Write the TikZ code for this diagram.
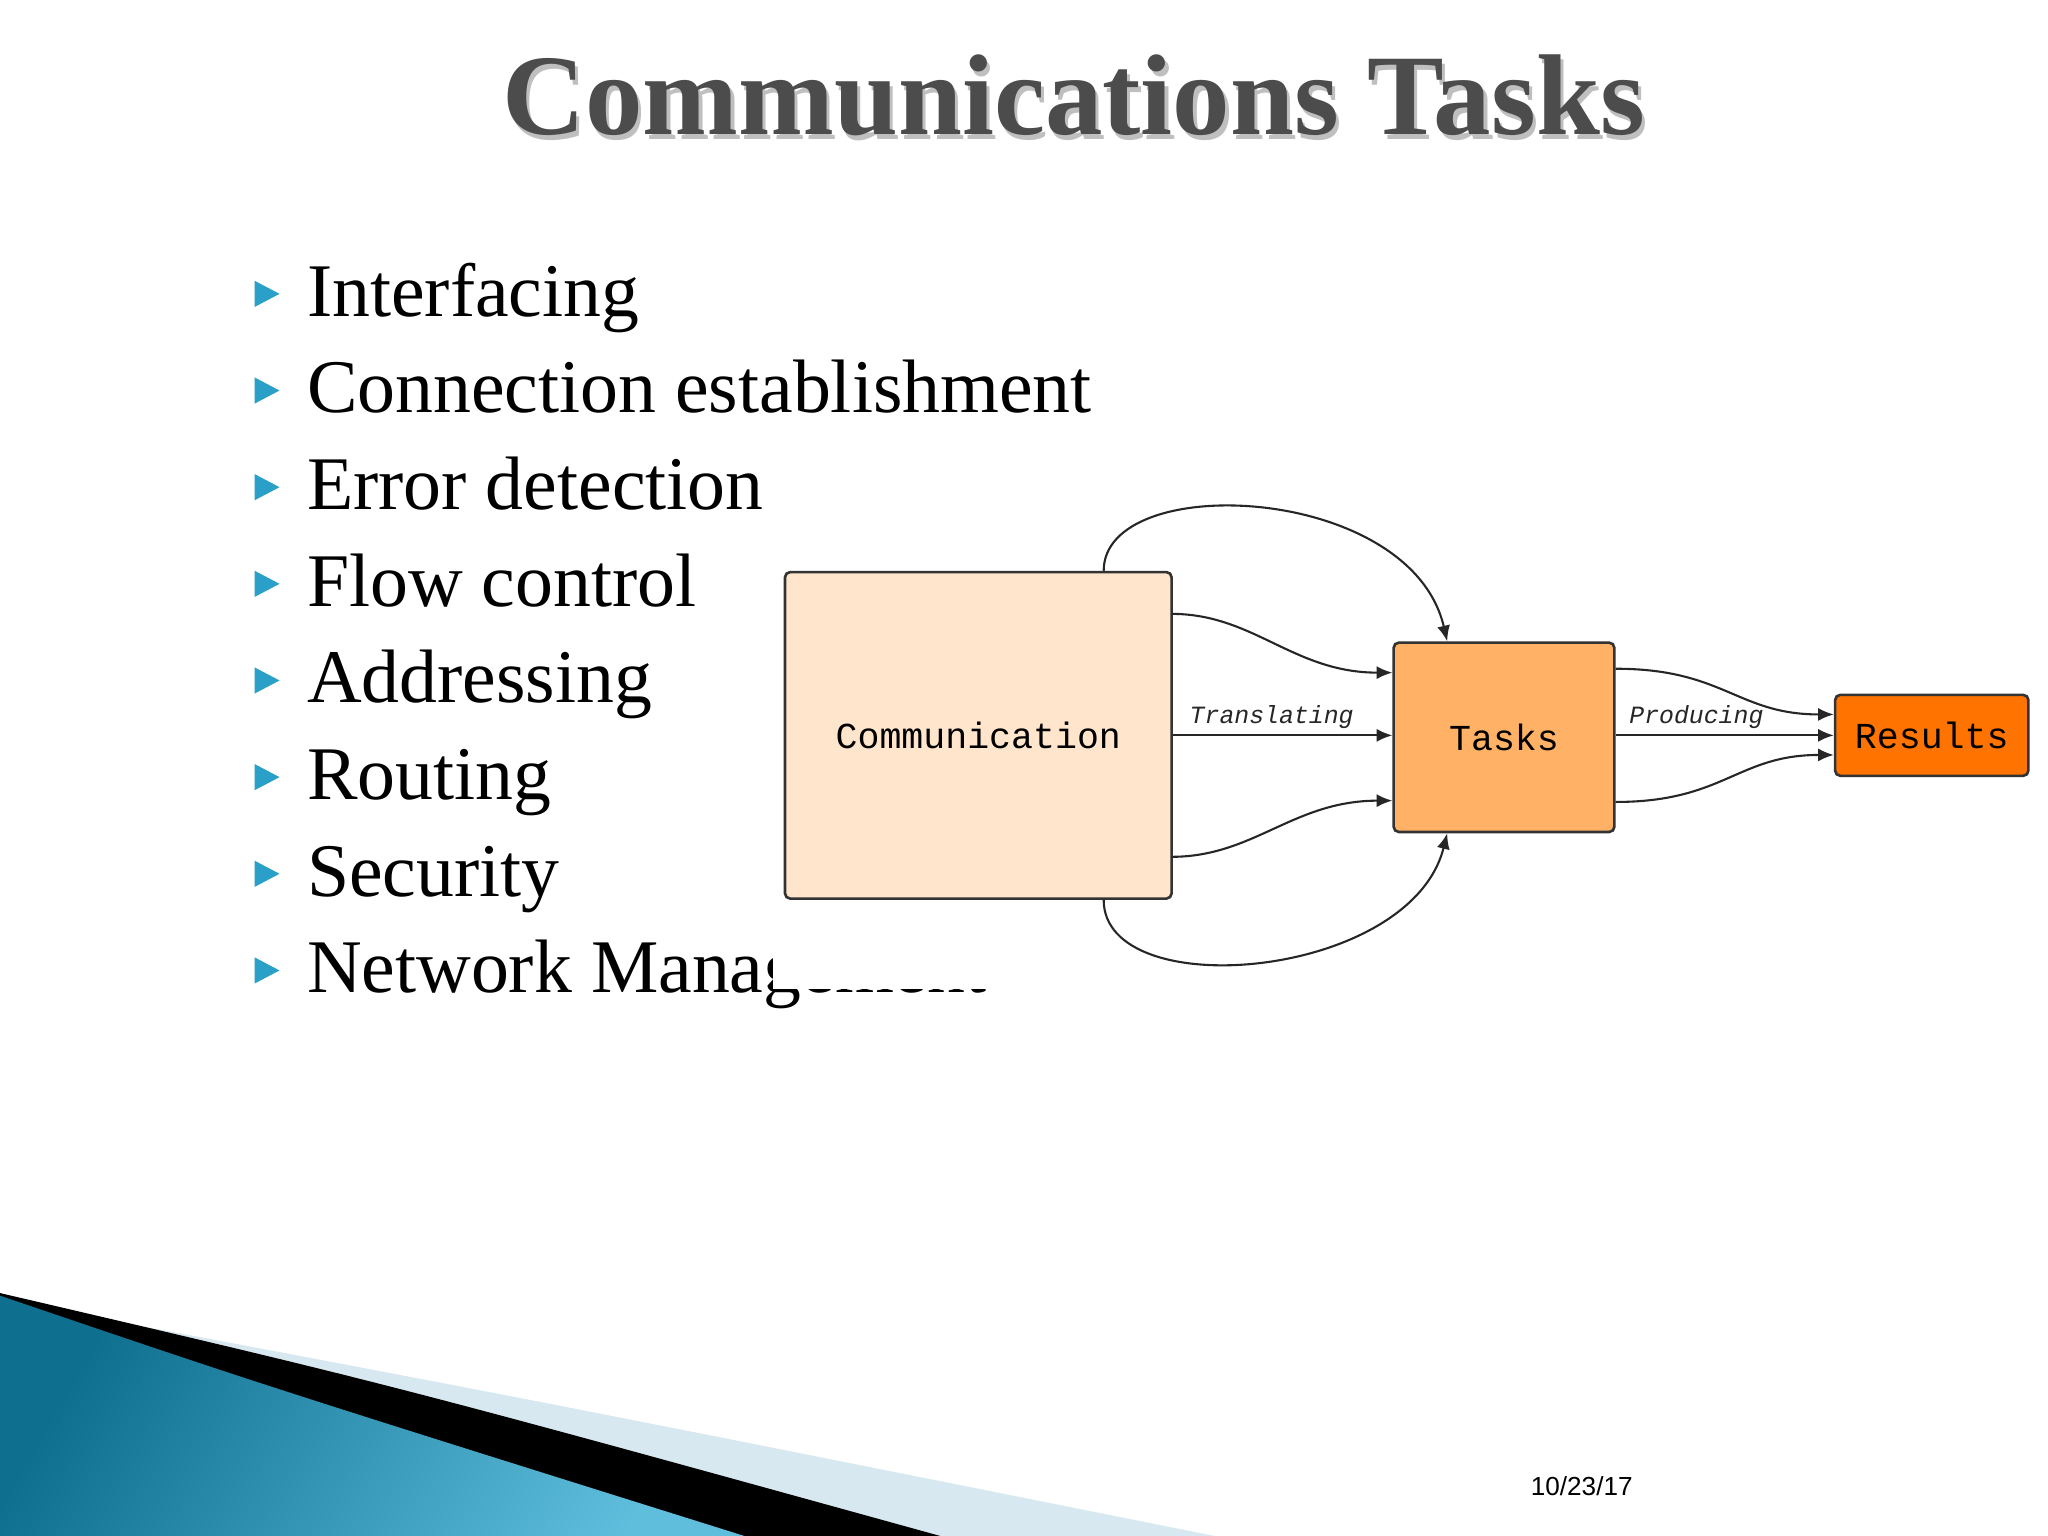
\documentclass[tikz,border=0pt]{standalone}
\usepackage{fontspec}
\setmainfont{Liberation Serif}
\newfontfamily\monof{Liberation Mono}
\newfontfamily\sansf{Liberation Sans}
\usetikzlibrary{arrows.meta}
\definecolor{teal1}{HTML}{2AA0C8}
\definecolor{band}{HTML}{D8E8F0}
\definecolor{deep}{HTML}{0F6F8F}
\definecolor{lite}{HTML}{5EBEDC}
\begin{document}
\begin{tikzpicture}[x=0.5pt,y=-0.5pt,
  bullet/.style={anchor=base west,font=\fontsize{29}{31}\selectfont},
  tri/.style={fill=teal1,draw=none},
  box/.style={draw=black!80,line width=1pt,rounded corners=2pt},
  arr/.style={-{Latex[length=6pt,width=5pt]},line width=0.8pt,black!85},
  lab/.style={font=\monof\itshape\fontsize{9.5}{10}\selectfont,above,inner sep=2pt}]
\useasboundingbox (0,0) rectangle (1568,1176);
\fill[white] (0,0) rectangle (1568,1176);
% bottom decoration
\fill[band] (0,995) .. controls (400,1070) .. (930,1176) -- (0,1176) -- cycle;
\fill[black] (0,990) .. controls (300,1060) .. (720,1176) -- (0,1176) -- cycle;
\shade[left color=deep,right color=lite,shading angle=60] (0,992) .. controls (200,1060) .. (570,1176) -- (0,1176) -- cycle;
% title with shadow
\node[font=\bfseries\fontsize{44}{46}\selectfont,text=black!70] (title) at (822,75)
  {\makebox[0pt][l]{\kern1.2pt\raisebox{-1.8pt}{\textcolor{black!25}{Communications Tasks}}}Communications Tasks};
% bullets
\foreach \t [count=\i] in {Interfacing,Connection establishment,Error detection,Flow control,Addressing,Routing,Security,Network Management}{
  \pgfmathsetmacro\yy{225+74*(\i-1)}
  \fill[tri] (195,\yy-10) -- (214,\yy) -- (195,\yy+10) -- cycle;
  \node[bullet] (b\i) at (228,\yy+17) {\t};
}
% white diagram background
\fill[white] (592,370) rectangle (1566,757);
% boxes
\node[box,fill=orange!20,minimum width=148pt,minimum height=125pt,font=\monof\fontsize{14}{16}\selectfont] (comm) at (749,563) {Communication};
\node[box,fill=orange!60,minimum width=84.5pt,minimum height=72.5pt,font=\monof\fontsize{14}{16}\selectfont] (tasks) at (1151.5,564.5) {Tasks};
\node[box,fill=orange!90!red,minimum width=74pt,minimum height=31pt,font=\monof\fontsize{14}{16}\selectfont] (res) at (1479,563) {Results};
% connectors
\coordinate (c1) at (897,470); \coordinate (c3) at (897,656);
\draw[arr] (c1) .. controls (960,470) and (990,515) .. (tasks.west |- 0,515);
\draw[arr] (comm.east |- 0,563) -- node[lab,pos=0.45]{Translating} (tasks.west |- 0,563);
\draw[arr] (c3) .. controls (960,656) and (990,613) .. (tasks.west |- 0,613);
\draw[arr] (comm.north -| 845,0) .. controls (845,360) and (1080,370) .. (tasks.north -| 1108,0);
\draw[arr] (comm.south -| 845,0) .. controls (845,770) and (1080,750) .. (tasks.south -| 1108,0);
\draw[arr] (tasks.east |- 0,512) .. controls (1320,512) and (1330,547) .. (res.west |- 0,547);
\draw[arr] (tasks.east |- 0,563) -- node[lab,pos=0.37]{Producing} (res.west |- 0,563);
\draw[arr] (tasks.east |- 0,614) .. controls (1320,614) and (1330,578) .. (res.west |- 0,578);
% date
\node[font=\sansf\fontsize{10}{12}\selectfont] (date) at (1211,1138) {10/23/17};
\end{tikzpicture}
\end{document}
